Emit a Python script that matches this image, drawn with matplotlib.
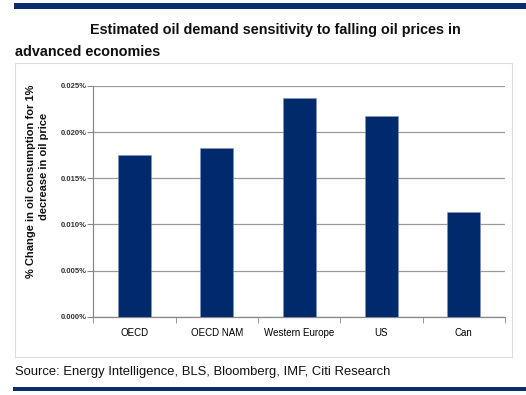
import matplotlib
matplotlib.use("Agg")
import matplotlib.pyplot as plt
from matplotlib.patches import Rectangle
from matplotlib.ticker import FuncFormatter, MultipleLocator

categories = ["OECD", "OECD NAM", "Western Europe", "US", "Can"]
values = [0.0175, 0.0183, 0.0237, 0.0218, 0.0114]  # in percent
title_line1 = "Estimated oil demand sensitivity to falling oil prices in"
title_line2 = "advanced economies"
ylabel_line1 = "% Change in oil consumption for 1%"
ylabel_line2 = "decrease in oil price"
source = "Source: Energy Intelligence, BLS, Bloomberg, IMF, Citi Research"

W, H = 526, 395
fig = plt.figure(figsize=(W / 100, H / 100), dpi=100)
fig.patch.set_facecolor("white")

def fx(x):
    return x / W

def fy(y):
    return 1 - y / H

navy = "#0a2d6e"
bar_color = "#002a6c"
narrow = ["Liberation Sans Narrow", "Liberation Sans", "DejaVu Sans"]
sans = ["Liberation Sans", "DejaVu Sans"]

# top and bottom bands
fig.add_artist(Rectangle((fx(14), fy(8.5)), fx(526 - 14), 5.5 / H, transform=fig.transFigure,
                         facecolor=navy, edgecolor="none"))
fig.add_artist(Rectangle((fx(13), fy(391)), fx(526 - 13), 4 / H, transform=fig.transFigure,
                         facecolor=navy, edgecolor="none"))
# chart frame
fig.add_artist(Rectangle((fx(15), fy(357)), fx(512 - 15), (357 - 63) / H, transform=fig.transFigure,
                         facecolor="none", edgecolor="#dcdcdc", linewidth=0.8))

# titles
fig.text(fx(275), fy(30), title_line1, ha="center", va="center", fontsize=10.4,
         fontweight="bold", family=sans, color="#111111")
fig.text(fx(15), fy(52), title_line2, ha="left", va="center", fontsize=10.4,
         fontweight="bold", family=sans, color="#111111")
fig.text(fx(15), fy(372), source, ha="left", va="center", fontsize=9.4,
         family=sans, color="#111111")

# axes
left, right, top, bottom = 93.3, 505, 86, 316.7
ax = fig.add_axes([fx(left), fy(bottom), fx(right - left), (bottom - top) / H])
x = list(range(len(categories)))
ax.bar(x, values, width=0.4, color=bar_color, edgecolor="#7f96c4", linewidth=0.4, zorder=3)
ax.set_xlim(-0.5, len(categories) - 0.5)
ax.set_ylim(0, 0.025)
ax.yaxis.set_major_locator(MultipleLocator(0.005))
ax.yaxis.set_major_formatter(FuncFormatter(lambda v, p: f"{v:.3f}%"))
ax.set_xticks(x)
ax.set_xticklabels(categories, family=sans, fontsize=7)
ax.set_xticks([i + 0.5 for i in range(-1, len(categories))], minor=True)
ax.tick_params(axis="x", which="major", length=0, pad=8)
ax.tick_params(axis="x", which="minor", length=4, color="#888888", direction="out")
ax.tick_params(axis="y", length=4, color="#888888", pad=1, labelsize=5.5)
for lab in ax.get_yticklabels():
    lab.set_family(narrow)
    lab.set_fontweight("bold")
    lab.set_color("#333333")
ax.grid(axis="y", color="#9a9a9a", linewidth=0.9, zorder=0)
for side in ["top", "right"]:
    ax.spines[side].set_visible(False)
for side in ["left", "bottom"]:
    ax.spines[side].set_color("#888888")
    ax.spines[side].set_linewidth(0.9)

fig.text(fx(31), fy(181), ylabel_line1, rotation=90, ha="center", va="center", fontsize=8,
         fontweight="bold", family=narrow, color="#111111")
fig.text(fx(44), fy(166), ylabel_line2, rotation=90, ha="center", va="center", fontsize=8,
         fontweight="bold", family=narrow, color="#111111")

fig.savefig("out.png", dpi=100, facecolor="white")
